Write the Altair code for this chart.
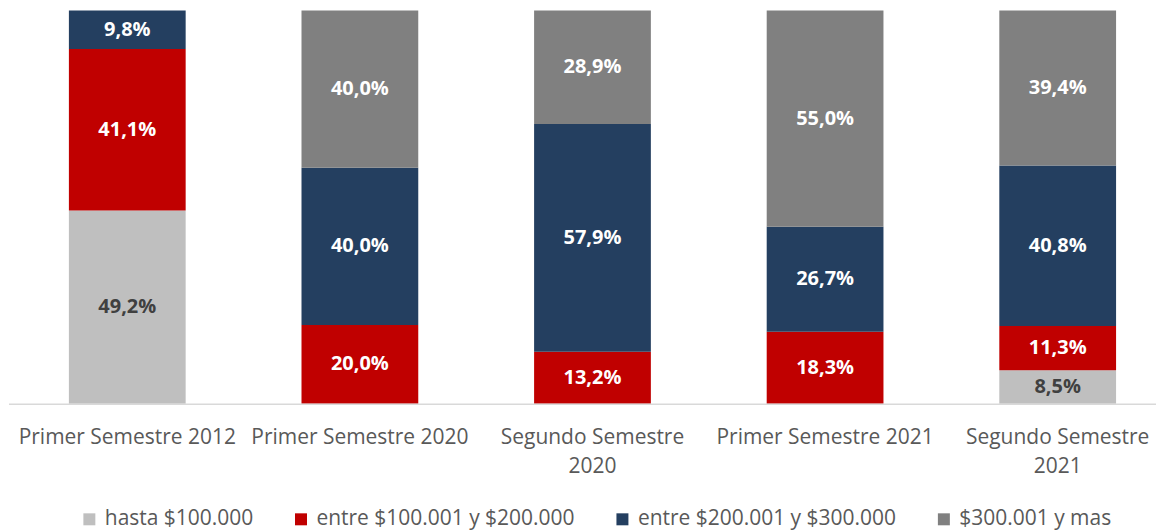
import altair as alt
import pandas as pd

categories = [
    "Primer Semestre 2012",
    "Primer Semestre 2020",
    "Segundo Semestre 2020",
    "Primer Semestre 2021",
    "Segundo Semestre 2021",
]
series = [
    "hasta $100.000",
    "entre $100.001 y $200.000",
    "entre $200.001 y $300.000",
    "$300.001 y mas",
]
hasta_100 = [49.2, 0, 0, 0, 8.5]
entre_100_200 = [41.1, 20.0, 13.2, 18.3, 11.3]
entre_200_300 = [9.8, 40.0, 57.9, 26.7, 40.8]
mas_300 = [0, 40.0, 28.9, 55.0, 39.4]
colors = ["#BFBFBF", "#C00000", "#243F60", "#808080"]

rows = []
for ci, cat in enumerate(categories):
    for si, vals in enumerate([hasta_100, entre_100_200, entre_200_300, mas_300]):
        if vals[ci] > 0:
            rows.append({"categoria": cat, "serie": series[si], "orden": si, "valor": vals[ci]})
df = pd.DataFrame(rows)

FONT = "Open Sans"
W, H = 1149, 394

xscale = alt.Scale(range=[60, 1109], paddingInner=0.498, paddingOuter=0)
label_expr = ("indexof(datum.label, 'Segundo') == 0 ? "
              "[slice(datum.label, 0, 16), slice(datum.label, 17)] : datum.label")

base = (
    alt.Chart(df)
    .transform_joinaggregate(total="sum(valor)", groupby=["categoria"])
    .transform_calculate(frac="datum.valor / datum.total")
    .transform_stack(
        stack="frac",
        groupby=["categoria"],
        sort=[alt.SortField("orden", order="ascending")],
        as_=["y0", "y1"],
    )
    .transform_calculate(
        ymid="(datum.y0 + datum.y1) / 2",
        etiqueta="replace(format(datum.valor, '.1f'), '.', ',') + '%'",
    )
)

x_enc = alt.X(
    "categoria:N",
    sort=categories,
    scale=xscale,
    axis=alt.Axis(
        title=None, domain=False, ticks=False, tickSize=0, grid=False,
        labelPadding=23, labelFont=FONT, labelFontSize=21, labelColor="#595959",
        labelAngle=0, labelLimit=400, labelLineHeight=29, labelExpr=label_expr,
    ),
)

bars = base.mark_bar().encode(
    x=x_enc,
    y=alt.Y("y0:Q", scale=alt.Scale(domain=[0, 1]), axis=None),
    y2="y1:Q",
    color=alt.Color(
        "serie:N",
        scale=alt.Scale(domain=series, range=colors),
        legend=alt.Legend(
            title=None, orient="none", legendX=70, legendY=499,
            direction="horizontal", symbolType="square", symbolSize=144,
            symbolStrokeWidth=0, labelFont=FONT, labelFontSize=21,
            labelColor="#595959", columnPadding=37, labelOffset=5, labelLimit=400,
        ),
    ),
)

texts = base.mark_text(font=FONT, fontWeight="bold", fontSize=20).encode(
    x=alt.X("categoria:N", sort=categories, scale=xscale),
    y=alt.Y("ymid:Q", scale=alt.Scale(domain=[0, 1])),
    text="etiqueta:N",
    color=alt.condition("datum.orden == 0", alt.value("#404040"), alt.value("white")),
)

axis_line = alt.Chart(pd.DataFrame({"a": [0]})).mark_rule(color="#D9D9D9", strokeWidth=1.5).encode(
    x=alt.value(0), x2=alt.value(W), y=alt.value(H + 0.5)
)

chart = (
    alt.layer(bars, texts, axis_line)
    .properties(width=W, height=H, padding={"left": 0, "right": 0, "top": 2, "bottom": 0})
    .configure_view(stroke=None)
)

chart.save("out.html", embed_options={"renderer": "svg", "actions": False})
